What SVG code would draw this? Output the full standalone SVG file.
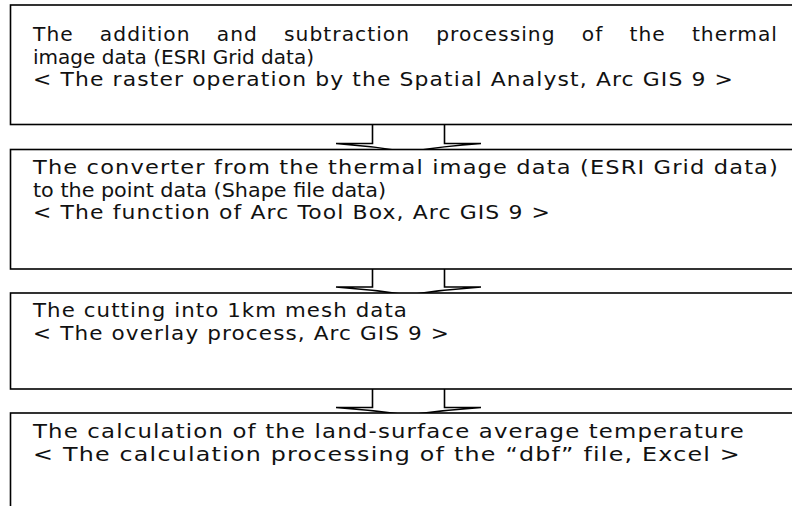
<svg xmlns="http://www.w3.org/2000/svg" width="792" height="506" viewBox="0 0 792 506">
  <style>
    .box { fill: #ffffff; stroke: #000000; stroke-width: 1.6; }
    .arrow { fill: #ffffff; stroke: #000000; stroke-width: 1.6; stroke-linejoin: miter; }
    .label { font-family: "DejaVu Sans", "Liberation Sans", sans-serif; font-size: 19.5px; fill: #111111; letter-spacing: 1px; }
    .just { word-spacing: 18px; }
    .tight { letter-spacing: 0px; }
  </style>
  <rect width="792" height="506" fill="#ffffff"/>

  <!-- block arrows between steps -->
  <g id="connectors">
    <path class="arrow" d="M372.5,124 V143.5 H336 Q372,146 408,152 Q444,146 481,143.5 H444.5 V124"/>
    <path class="arrow" d="M372.5,269 V287 H336 Q372,289.5 408,295 Q444,289.5 481,287 H444.5 V269"/>
    <path class="arrow" d="M372.5,389 V407.5 H336 Q372,410 408,415 Q444,410 481,407.5 H444.5 V389"/>
  </g>

  <g id="step1">
    <rect class="box" x="10.5" y="5" width="800" height="119.5"/>
    <text class="label just" x="33" y="41" textLength="745" lengthAdjust="spacingAndGlyphs">The addition and subtraction processing of the thermal</text>
    <text class="label tight" x="33" y="63.5" textLength="281" lengthAdjust="spacingAndGlyphs">image data (ESRI Grid data)</text>
    <text class="label" x="33" y="86" textLength="701" lengthAdjust="spacingAndGlyphs">&lt; The raster operation by the Spatial Analyst, Arc GIS 9 &gt;</text>
  </g>

  <g id="step2">
    <rect class="box" x="10.5" y="149.5" width="800" height="119.5"/>
    <text class="label" x="33" y="174" textLength="746" lengthAdjust="spacingAndGlyphs">The converter from the thermal image data (ESRI Grid data)</text>
    <text class="label tight" x="33" y="196.5" textLength="353" lengthAdjust="spacingAndGlyphs">to the point data (Shape file data)</text>
    <text class="label" x="33" y="219" textLength="518" lengthAdjust="spacingAndGlyphs">&lt; The function of Arc Tool Box, Arc GIS 9 &gt;</text>
  </g>

  <g id="step3">
    <rect class="box" x="10.5" y="293" width="800" height="96"/>
    <text class="label" x="33" y="317" textLength="375" lengthAdjust="spacingAndGlyphs">The cutting into 1km mesh data</text>
    <text class="label" x="33" y="340" textLength="417" lengthAdjust="spacingAndGlyphs">&lt; The overlay process, Arc GIS 9 &gt;</text>
  </g>

  <g id="step4">
    <rect class="box" x="10.5" y="413" width="800" height="120"/>
    <text class="label" x="33" y="438" textLength="712" lengthAdjust="spacingAndGlyphs">The calculation of the land-surface average temperature</text>
    <text class="label" x="33" y="461" textLength="708" lengthAdjust="spacingAndGlyphs">&lt; The calculation processing of the “dbf” file, Excel &gt;</text>
  </g>
</svg>
